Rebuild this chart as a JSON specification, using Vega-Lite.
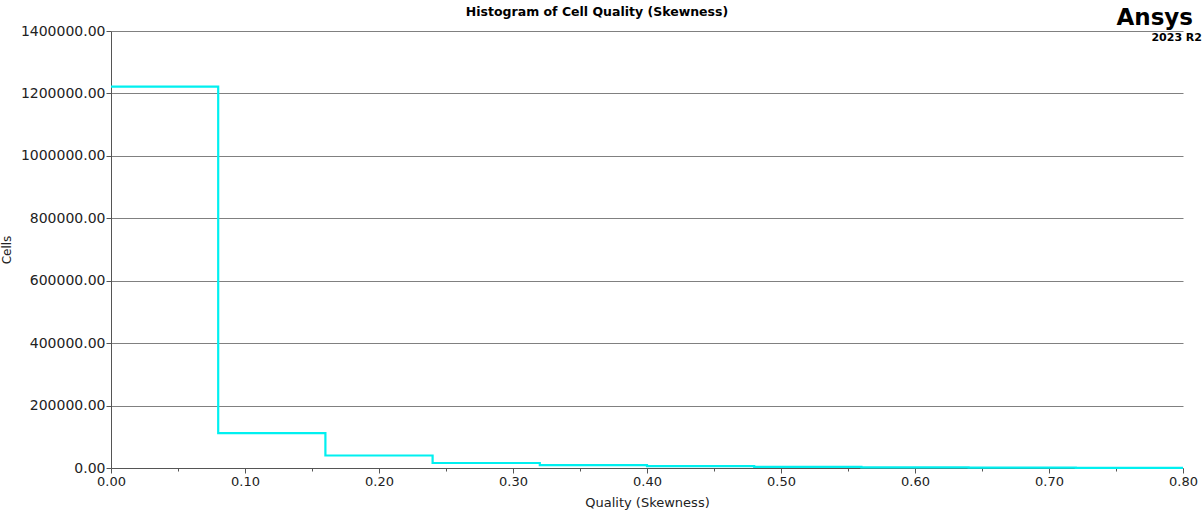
{
  "$schema": "https://vega.github.io/schema/vega-lite/v6.json",
  "autosize": {"type": "none"},
  "width": 1072,
  "height": 437,
  "padding": {"left": 111, "top": 31, "right": 20, "bottom": 51},
  "background": "white",
  "title": {
    "text": "Histogram of Cell Quality (Skewness)",
    "font": "DejaVu Sans",
    "fontSize": 12.5,
    "fontWeight": "bold",
    "color": "#000000",
    "anchor": "middle",
    "dx": -50,
    "offset": -11
  },
  "config": {
    "view": {"stroke": null},
    "axis": {
      "labelFont": "DejaVu Sans",
      "labelFontSize": 12,
      "labelColor": "#222222",
      "titleFont": "DejaVu Sans",
      "titleFontSize": 13,
      "titleFontWeight": "normal",
      "titleColor": "#222222",
      "domainColor": "#555555",
      "tickColor": "#555555"
    }
  },
  "layer": [
    {
      "data": {
        "values": [
          {"quality": 0.0, "cells": 1222000},
          {"quality": 0.08, "cells": 112000},
          {"quality": 0.16, "cells": 40000},
          {"quality": 0.24, "cells": 16000},
          {"quality": 0.32, "cells": 9000},
          {"quality": 0.4, "cells": 6000},
          {"quality": 0.48, "cells": 3500},
          {"quality": 0.56, "cells": 2000},
          {"quality": 0.64, "cells": 1200},
          {"quality": 0.72, "cells": 600},
          {"quality": 0.8, "cells": 600}
        ]
      },
      "mark": {"type": "line", "interpolate": "step-after", "color": "#00F0F0", "strokeWidth": 2.2},
      "encoding": {
        "x": {
          "field": "quality",
          "type": "quantitative",
          "scale": {"domain": [0, 0.8], "nice": false, "zero": false},
          "axis": {
            "title": "Quality (Skewness)",
            "titlePadding": 8,
            "values": [0, 0.025, 0.05, 0.075, 0.1, 0.125, 0.15, 0.175, 0.2, 0.225, 0.25, 0.275, 0.3, 0.325, 0.35, 0.375, 0.4, 0.425, 0.45, 0.475, 0.5, 0.525, 0.55, 0.575, 0.6, 0.625, 0.65, 0.675, 0.7, 0.725, 0.75, 0.775, 0.8],
            "labelExpr": "abs(datum.value*10 - round(datum.value*10)) < 0.0001 ? format(datum.value, '.2f') : ''",
            "tickSize": {"condition": {"test": "abs(datum.value*10 - round(datum.value*10)) < 0.0001", "value": 5}, "value": 3},
            "grid": false,
            "labelFontSize": 13,
            "labelPadding": 2,
            "labelFlush": false,
            "labelOverlap": false
          }
        },
        "y": {
          "field": "cells",
          "type": "quantitative",
          "scale": {"domain": [0, 1400000], "nice": false},
          "axis": {
            "title": "Cells",
            "titleX": -98,
            "titleFontSize": 12,
            "values": [0, 100000, 200000, 300000, 400000, 500000, 600000, 700000, 800000, 900000, 1000000, 1100000, 1200000, 1300000, 1400000],
            "labelExpr": "datum.value % 200000 == 0 ? format(datum.value, '.2f') : ''",
            "tickSize": {"condition": {"test": "datum.value % 200000 == 0", "value": 5}, "value": 3},
            "grid": true,
            "gridColor": "#808080",
            "gridOpacity": {"condition": {"test": "datum.value % 200000 == 0 && datum.value > 0", "value": 1}, "value": 0},
            "labelFontSize": 14,
            "labelPadding": 1,
            "labelOverlap": false
          }
        }
      }
    },
    {
      "data": {"values": [{"text": "Ansys"}]},
      "mark": {"type": "text", "align": "right", "baseline": "alphabetic", "dx": 10, "dy": -6, "font": "DejaVu Sans", "fontSize": 23, "fontWeight": "bold", "color": "#000000"},
      "encoding": {
        "x": {"datum": 0.8, "type": "quantitative"},
        "y": {"datum": 1400000, "type": "quantitative"},
        "text": {"field": "text"}
      }
    },
    {
      "data": {"values": [{"text": "2023 R2"}]},
      "mark": {"type": "text", "align": "right", "baseline": "alphabetic", "dx": 19, "dy": 10, "font": "DejaVu Sans", "fontSize": 11, "fontWeight": "bold", "color": "#000000"},
      "encoding": {
        "x": {"datum": 0.8, "type": "quantitative"},
        "y": {"datum": 1400000, "type": "quantitative"},
        "text": {"field": "text"}
      }
    }
  ]
}
